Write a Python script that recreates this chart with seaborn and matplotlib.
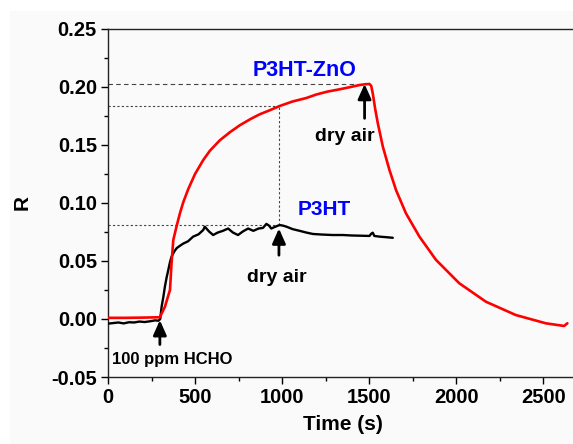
import matplotlib
matplotlib.use("Agg")
import matplotlib.pyplot as plt
from matplotlib.patches import Rectangle
from matplotlib.ticker import MultipleLocator, FormatStrFormatter
import seaborn as sns
import pandas as pd

# ---- data ----
p3ht_t = [0, 30, 60, 90, 120, 150, 180, 210, 240, 270, 290, 300, 308, 318, 327, 337,
          346, 356, 365, 380, 394, 412, 432, 460, 489, 520, 547, 556, 580, 604, 630,
          660, 690, 718, 747, 775, 805, 835, 865, 890, 910, 925, 938, 960, 986, 1005,
          1025, 1060, 1101, 1140, 1177, 1230, 1290, 1349, 1400, 1450, 1502, 1512, 1521,
          1530, 1560, 1600, 1636]
p3ht_r = [-0.004, -0.0035, -0.003, -0.0038, -0.0028, -0.003, -0.0022, -0.0026, -0.002,
          -0.0012, -0.0015, 0.0, 0.0106, 0.019, 0.028, 0.036, 0.042, 0.049, 0.0537,
          0.058, 0.061, 0.063, 0.065, 0.067, 0.071, 0.073, 0.0767, 0.0796, 0.0755,
          0.0724, 0.0745, 0.076, 0.078, 0.0745, 0.0724, 0.0755, 0.078, 0.076, 0.078,
          0.0785, 0.082, 0.0805, 0.078, 0.0795, 0.081, 0.0805, 0.0796, 0.0775, 0.076,
          0.0745, 0.0733, 0.0728, 0.0724, 0.0724, 0.072, 0.0718, 0.0716, 0.0735, 0.0744,
          0.0716, 0.071, 0.0705, 0.070]

zno_t = [0, 100, 200, 298, 327, 356, 365, 375, 394, 413, 432, 461, 500, 547, 585, 642,
         700, 757, 820, 872, 930, 986, 1060, 1139, 1196, 1260, 1330, 1400, 1445, 1480,
         1502, 1512, 1521, 1535, 1550, 1579, 1617, 1655, 1712, 1789, 1884, 2018, 2171,
         2343, 2515, 2620, 2639]
zno_r = [0.001, 0.001, 0.0012, 0.0015, 0.0106, 0.025, 0.048, 0.068, 0.080, 0.091,
         0.1005, 0.112, 0.125, 0.137, 0.145, 0.154, 0.161, 0.167, 0.1725, 0.1765,
         0.180, 0.1836, 0.1875, 0.1905, 0.1935, 0.196, 0.198, 0.2002, 0.2017, 0.2024,
         0.2026, 0.201, 0.1945, 0.181, 0.1687, 0.1485, 0.1284, 0.111, 0.091, 0.071,
         0.051, 0.0308, 0.0149, 0.0034, -0.0037, -0.006, -0.0037]

# guide lines: (x_end, y) values
guide_p3ht = (982, 0.081)
guide_zno_mid = (982, 0.1836)
guide_zno_peak = (1480, 0.2026)

# ---- style ----
sns.set_style("ticks")
plt.rcParams["font.family"] = ["Liberation Sans", "DejaVu Sans"]
plt.rcParams["font.weight"] = "bold"
plt.rcParams["text.color"] = "black"
plt.rcParams["axes.labelcolor"] = "black"
plt.rcParams["xtick.color"] = "black"
plt.rcParams["ytick.color"] = "black"

BG = "#fafafa"
fig = plt.figure(figsize=(5.73, 4.44), dpi=100, facecolor=BG)
fig.add_artist(Rectangle((0, 1 - 11 / 444), 1, 11 / 444, transform=fig.transFigure,
                         facecolor="white", edgecolor="none", zorder=-5))
fig.add_artist(Rectangle((0, 0), 10 / 573, 1, transform=fig.transFigure,
                         facecolor="white", edgecolor="none", zorder=-5))
ax = fig.add_axes([108 / 573, 67 / 444, (578 - 108) / 573, (377 - 29) / 444])
ax.set_facecolor(BG)

df1 = pd.DataFrame({"t": p3ht_t, "R": p3ht_r})
df2 = pd.DataFrame({"t": zno_t, "R": zno_r})

# guide lines
gc = "#444444"
ax.plot([0, guide_p3ht[0]], [guide_p3ht[1]] * 2, ls=(0, (2, 2)), lw=0.8, color=gc, zorder=1)
ax.plot([0, guide_zno_mid[0]], [guide_zno_mid[1]] * 2, ls=(0, (2, 2)), lw=0.8, color=gc, zorder=1)
ax.plot([guide_zno_mid[0]] * 2, [guide_p3ht[1], guide_zno_mid[1]], ls=(0, (2, 2)), lw=0.8, color=gc, zorder=1)
ax.plot([0, guide_zno_peak[0]], [guide_zno_peak[1]] * 2, ls=(0, (4, 3)), lw=0.8, color=gc, zorder=1)

sns.lineplot(data=df1, x="t", y="R", ax=ax, color="black", lw=1.7, sort=False,
             estimator=None, zorder=3)
sns.lineplot(data=df2, x="t", y="R", ax=ax, color="#ff0000", lw=1.9, sort=False,
             estimator=None, zorder=4)

ax.set_xlim(0, 2700)
ax.set_ylim(-0.05, 0.25)
ax.xaxis.set_major_locator(MultipleLocator(500))
ax.xaxis.set_minor_locator(MultipleLocator(250))
ax.yaxis.set_major_locator(MultipleLocator(0.05))
ax.yaxis.set_minor_locator(MultipleLocator(0.025))
ax.yaxis.set_major_formatter(FormatStrFormatter("%.2f"))
ax.tick_params(which="major", direction="out", length=5, width=1, labelsize=14.5,
               top=False, right=False, pad=3)
ax.tick_params(which="minor", direction="out", length=3, width=1, top=False, right=False)
for lab in ax.get_xticklabels() + ax.get_yticklabels():
    lab.set_fontweight("bold")
for s in ax.spines.values():
    s.set_linewidth(1.0)
    s.set_color("#222222")

ax.set_xlabel("Time (s)", fontsize=15, fontweight="bold", labelpad=6)
ax.set_ylabel("R", fontsize=15, fontweight="bold", labelpad=14)

# arrows
ap = dict(arrowstyle="-|>,head_length=0.9,head_width=0.4", color="black", lw=2.0,
          shrinkA=0, shrinkB=0)
ax.annotate("", xy=(982, 0.078), xytext=(982, 0.055), arrowprops=ap, zorder=5)
ax.annotate("", xy=(1474, 0.2026), xytext=(1474, 0.173), arrowprops=ap, zorder=5)
ax.annotate("", xy=(298, -0.001), xytext=(298, -0.022), arrowprops=ap, zorder=5)

ax.text(969, 0.036, "dry air", fontsize=14, fontweight="bold", ha="center", va="center")
ax.text(1359, 0.157, "dry air", fontsize=14, fontweight="bold", ha="center", va="center")
ax.text(367, -0.035, "100 ppm HCHO", fontsize=12, fontweight="bold", ha="center", va="center")
ax.text(1129, 0.214, "P3HT-ZnO", fontsize=15.5, fontweight="bold", ha="center",
        va="center", color="#0000ff")
ax.text(1245, 0.094, "P3HT", fontsize=15, fontweight="bold", ha="center",
        va="center", color="#0000ff")

fig.savefig("out.png", dpi=100, facecolor=BG)
